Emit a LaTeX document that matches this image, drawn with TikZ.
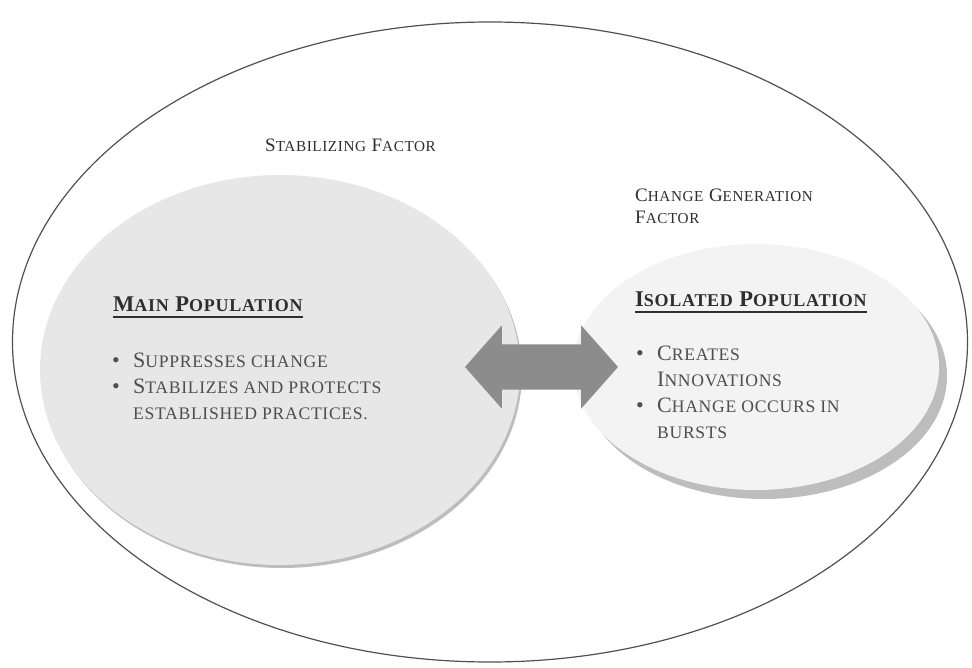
\documentclass[tikz,border=0pt]{standalone}
\usepackage{fontspec}
\setmainfont[LetterSpace=4]{Liberation Serif}
\usetikzlibrary{shapes.geometric,shapes.arrows,shadows}

\definecolor{rimgray}{HTML}{505050}
\definecolor{maingray}{HTML}{E7E7E7}
\definecolor{isogray}{HTML}{F3F3F3}
\definecolor{shadegray}{HTML}{BDBDBD}
\definecolor{arrowgray}{HTML}{8C8C8C}
\definecolor{headgray}{HTML}{2E2E2E}
\definecolor{textgray}{HTML}{4E4E4E}

% smaller capitals for the small-caps look
\newcommand\lc[1]{\scalebox{0.8}{#1}}
\newcommand\bul{\makebox[21pt][l]{\textbullet}}
\newcommand\nobul{\makebox[21pt][l]{}}

\begin{document}
\begin{tikzpicture}[x=1pt, y=-1pt,
    world/.style = {ellipse, draw=rimgray, line width=1.2pt, inner sep=0pt},
    population/.style = {ellipse, inner sep=0pt},
    factor/.style = {anchor=base west, inner sep=0pt, align=left, text=headgray,
                     font=\fontsize{19}{22}\selectfont},
    heading/.style = {anchor=base west, inner sep=0pt, text=headgray,
                      font=\fontsize{22.5}{25}\selectfont\bfseries},
    points/.style = {anchor=base west, inner sep=0pt, align=left, text=textgray,
                     font=\fontsize{22}{25.8}\selectfont},
    headline/.style = {draw=headgray, line width=2pt}]

  \useasboundingbox (0,0) rectangle (972,668);

  \node[world, minimum width=955pt, minimum height=640pt] (world) at (490,342) {};

  \node[population, fill=maingray, minimum width=480pt, minimum height=390pt,
        drop shadow={shadow xshift=2pt, shadow yshift=-3pt, fill=shadegray, opacity=1}]
        (main) at (280,370) {};
  \node[population, fill=isogray, minimum width=366pt, minimum height=246pt,
        drop shadow={shadow xshift=8pt, shadow yshift=-9pt, fill=shadegray, opacity=1}]
        (iso) at (756,367) {};

  % shaft width comes from inner ysep
  \node[double arrow, fill=arrowgray, inner xsep=0pt, inner ysep=22.5pt,
        minimum height=153pt, double arrow head extend=19pt,
        double arrow tip angle=97] (link) at (541.5,367) {};

  % multi-line nodes sit on the baseline of their last line
  \node[factor] (stab) at (265,152) {S\lc{TABILIZING} F\lc{ACTOR}};
  \node[factor] (change) at (635,224) {C\lc{HANGE} G\lc{ENERATION}\\ F\lc{ACTOR}};

  \node[heading] (mainhead) at (113,312) {M\lc{AIN} P\lc{OPULATION}};
  \draw[headline] ([yshift=-5pt]mainhead.base west) -- ([yshift=-5pt]mainhead.base east);
  \node[points] (mainlist) at (112,419)
    {\bul S\lc{UPPRESSES CHANGE}\\
     \bul S\lc{TABILIZES AND PROTECTS}\\
     \nobul\lc{ESTABLISHED PRACTICES.}};

  \node[heading] (isohead) at (635,307) {I\lc{SOLATED} P\lc{OPULATION}};
  \draw[headline] ([yshift=-5pt]isohead.base west) -- ([yshift=-5pt]isohead.base east);
  \node[points] (isolist) at (636,438)
    {\bul C\lc{REATES}\\
     \nobul I\lc{NNOVATIONS}\\
     \bul C\lc{HANGE OCCURS IN}\\
     \nobul\lc{BURSTS}};
\end{tikzpicture}
\end{document}
